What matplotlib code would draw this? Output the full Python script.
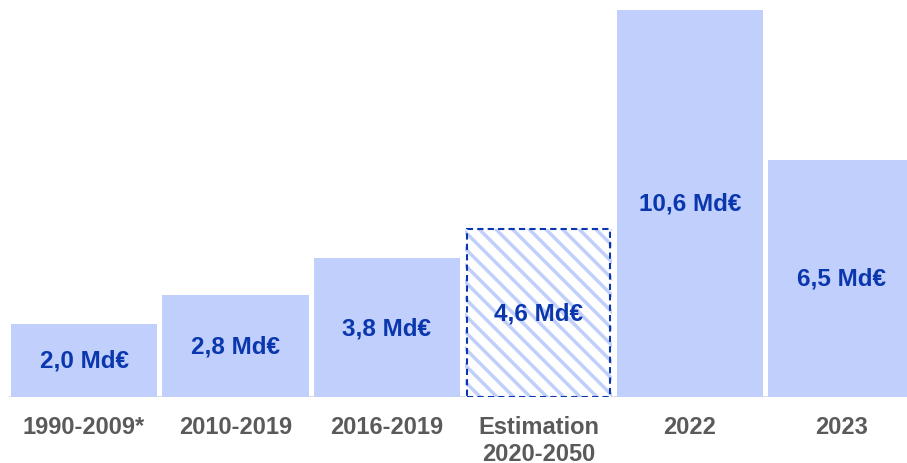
import matplotlib.pyplot as plt

plt.rcParams['font.family'] = ['Liberation Sans', 'DejaVu Sans']
plt.rcParams['hatch.linewidth'] = 2.5

# --- data ---
categories = ['1990-2009*', '2010-2019', '2016-2019', 'Estimation\n2020-2050', '2022', '2023']
values = [2.0, 2.8, 3.8, 4.6, 10.6, 6.5]
value_labels = ['2,0 Md€', '2,8 Md€', '3,8 Md€', '4,6 Md€', '10,6 Md€', '6,5 Md€']
estimate_idx = 3  # the hatched / dashed bar

BAR_COLOR = '#C0CFFB'
TEXT_BLUE = '#0B37AE'
TICK_GREY = '#5A5A5A'
BASE_GREY = '#D9D9D9'

fig = plt.figure(figsize=(9.07, 4.64), dpi=100)
ax = fig.add_axes([0, 66 / 464, 1, 398 / 464])

x = list(range(len(categories)))
width = 0.964

for i, v in enumerate(values):
    if i == estimate_idx:
        # hatch only, then a dashed outline on top
        ax.bar(i, v, width=width, facecolor='white', edgecolor=BAR_COLOR,
               hatch='\\\\', linewidth=0, zorder=2)
        ax.bar(i, v, width=width * 0.985, facecolor='none', edgecolor=TEXT_BLUE,
               linewidth=1.5, linestyle=(0, (3, 2)), zorder=3)
    else:
        ax.bar(i, v, width=width, color=BAR_COLOR, linewidth=0, zorder=2)
    ax.text(i, v / 2, value_labels[i], ha='center', va='center',
            fontsize=17.5, fontweight='bold', color=TEXT_BLUE, zorder=4)

# baseline
ax.hlines(0, -0.5, 5.5, color=BASE_GREY, linewidth=2, zorder=1)

ax.set_xlim(-84 / 151.5, (907 - 84) / 151.5)
ax.set_ylim(0, 398 / 36.51)

ax.set_xticks(x)
ax.set_xticklabels(categories, fontsize=17, fontweight='bold', color=TICK_GREY)
ax.tick_params(axis='x', length=0, pad=13)
ax.set_yticks([])
for s in ax.spines.values():
    s.set_visible(False)

fig.savefig('out.png', dpi=100)
